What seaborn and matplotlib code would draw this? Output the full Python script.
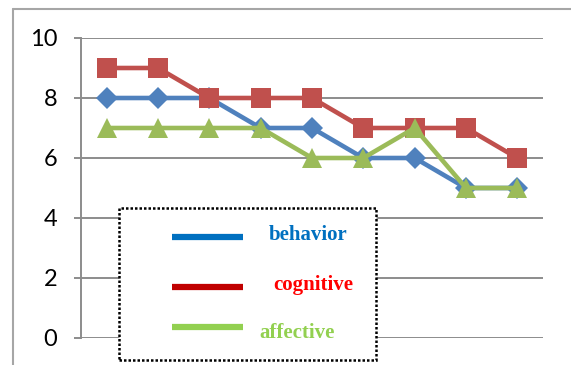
import matplotlib
matplotlib.use("Agg")
import matplotlib.pyplot as plt
from matplotlib.lines import Line2D
from matplotlib.patches import Rectangle
import seaborn as sns
import pandas as pd

# Scores for the three attitude components over nine observations
points = [1, 2, 3, 4, 5, 6, 7, 8, 9]
behavior = [8, 8, 8, 7, 7, 6, 6, 5, 5]
cognitive = [9, 9, 8, 8, 8, 7, 7, 7, 6]
affective = [7, 7, 7, 7, 6, 6, 7, 5, 5]
y_ticks = [0, 2, 4, 6, 8, 10]
legend_labels = ["behavior", "cognitive", "affective"]

sns.set_theme(style="white")
plt.rcParams["font.family"] = ["Lato", "DejaVu Sans"]

W, H = 571, 365
fig = plt.figure(figsize=(W / 100, H / 100), dpi=100)
ax = fig.add_axes([81 / W, 27 / H, (543 - 81) / W, (338 - 38) / H])

grid_col = "#8C8C8C"

series = [
    (behavior, "#4F81BD", "D", 11.0),
    (cognitive, "#C0504D", "s", 14.4),
    (affective, "#9BBB59", "^", 14.0),
]
for values, col, mk, ms in series:
    df = pd.DataFrame({"x": points, "y": values})
    sns.lineplot(data=df, x="x", y="y", ax=ax, color=col, linewidth=3.3,
                 marker=mk, markersize=ms, markeredgewidth=0,
                 markerfacecolor=col, legend=False, clip_on=False)

ax.set_xlim(0.5, 9.5)
ax.set_ylim(0, 10)
ax.set_yticks(y_ticks)
ax.set_yticklabels([str(t) for t in y_ticks], fontsize=17, color="#000000")
ax.set_xticks([])
ax.set_xlabel("")
ax.set_ylabel("")
for t in y_ticks:
    ax.axhline(t, color=grid_col, linewidth=1.4, zorder=0)
for s in ["top", "right", "bottom"]:
    ax.spines[s].set_visible(False)
ax.spines["left"].set_color(grid_col)
ax.spines["left"].set_linewidth(1.4)
ax.tick_params(axis="y", length=5, width=1.4, color=grid_col, pad=12, left=True)

# Outer chart frame
frame_col = "#A6A6A6"
fig.add_artist(Line2D([13 / W, 13 / W], [0, 1 - 9 / H], color=frame_col,
                      linewidth=1.5, transform=fig.transFigure))
fig.add_artist(Line2D([13 / W, 1], [1 - 9 / H, 1 - 9 / H], color=frame_col,
                      linewidth=1.5, transform=fig.transFigure))

# Legend box with dotted border
def fx(px):
    return px / W

def fy(py):
    return 1 - py / H

box = Rectangle((fx(119), fy(360)), fx(376) - fx(119), fy(208) - fy(360),
                transform=fig.transFigure, fill=True, facecolor="white",
                edgecolor="black", linewidth=1.8, linestyle=(0, (1, 0.8)),
                zorder=5)
fig.add_artist(box)

handle_cols = ["#0070C0", "#C00000", "#92D050"]
text_cols = ["#0070C0", "#FF0000", "#92D050"]
handle_y = [237, 287, 327]
text_pos = [(269, 235), (273, 285), (259, 333)]
for lab, hc, tc, hy, (tx, ty) in zip(legend_labels, handle_cols, text_cols,
                                     handle_y, text_pos):
    fig.add_artist(Line2D([fx(172), fx(243)], [fy(hy), fy(hy)], color=hc,
                          linewidth=4.5, solid_capstyle="butt",
                          transform=fig.transFigure, zorder=6))
    fig.text(fx(tx), fy(ty), lab, color=tc, fontsize=15, fontweight="bold",
             family=["Liberation Serif", "DejaVu Serif"], ha="left",
             va="center", zorder=6)

fig.savefig("out.png", dpi=100)
